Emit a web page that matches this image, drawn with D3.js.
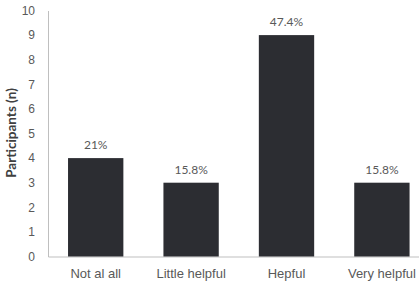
<!DOCTYPE html>
<html>
<head>
<meta charset="utf-8">
<script src="https://cdn.jsdelivr.net/npm/d3@7"></script>
<style>
  body { margin: 0; background: #fff; }
  svg { display: block; }
</style>
</head>
<body>
<svg id="chart"></svg>
<script>
// Chart data
var categories = ["Not al all", "Little helpful", "Hepful", "Very helpful"];
var participants = [4, 3, 9, 3];
var percentLabels = ["21%", "15.8%", "47.4%", "15.8%"];
var yTicks = [0, 1, 2, 3, 4, 5, 6, 7, 8, 9, 10];

var width = 419, height = 281;
var svg = d3.select("#chart").attr("width", width).attr("height", height)
    .attr("font-family", "Lato, 'Open Sans', sans-serif");

var plotLeft = 48, plotBottom = 256.5, plotTop = 10.5;

var x = d3.scaleBand()
    .domain(categories)
    .range([plotLeft, plotLeft + 4 * 95.4])
    .paddingInner(0.42)
    .paddingOuter(0.21);

var y = d3.scaleLinear()
    .domain([0, 10])
    .range([plotBottom, plotTop]);

// y axis
var yAxis = svg.append("g")
    .attr("transform", "translate(" + plotLeft + ",0)")
    .call(d3.axisLeft(y).tickValues(yTicks).tickSize(0).tickPadding(13));
yAxis.select(".domain").attr("stroke", "#bfbfbf");
yAxis.selectAll("text").attr("fill", "#595959").attr("font-size", 12);

// x axis
var xAxis = svg.append("g")
    .attr("transform", "translate(0," + plotBottom + ")")
    .call(d3.axisBottom(x).tickSize(0).tickPadding(12));
xAxis.select(".domain").attr("stroke", "#bfbfbf");
xAxis.selectAll("text").attr("fill", "#595959").attr("font-size", 13);

// bars
svg.selectAll(".bar")
    .data(categories)
    .enter().append("rect")
    .attr("class", "bar")
    .attr("x", function (d) { return x(d) })
    .attr("width", x.bandwidth())
    .attr("y", function (d, i) { return y(participants[i]) })
    .attr("height", function (d, i) { return plotBottom - y(participants[i]) })
    .attr("fill", "#2c2d32");

// value labels
svg.selectAll(".pct")
    .data(categories)
    .enter().append("text")
    .attr("class", "pct")
    .attr("x", function (d) { return x(d) + x.bandwidth() / 2 })
    .attr("y", function (d, i) { return y(participants[i]) - 9 })
    .attr("text-anchor", "middle")
    .attr("fill", "#595959")
    .attr("font-size", 12)
    .text(function (d, i) { return percentLabels[i] });

// y axis title
svg.append("text")
    .attr("transform", "translate(16,133) rotate(-90)")
    .attr("text-anchor", "middle")
    .attr("fill", "#404040")
    .attr("font-size", 13.5)
    .attr("font-weight", "bold")
    .text("Participants (n)");
</script>
</body>
</html>
